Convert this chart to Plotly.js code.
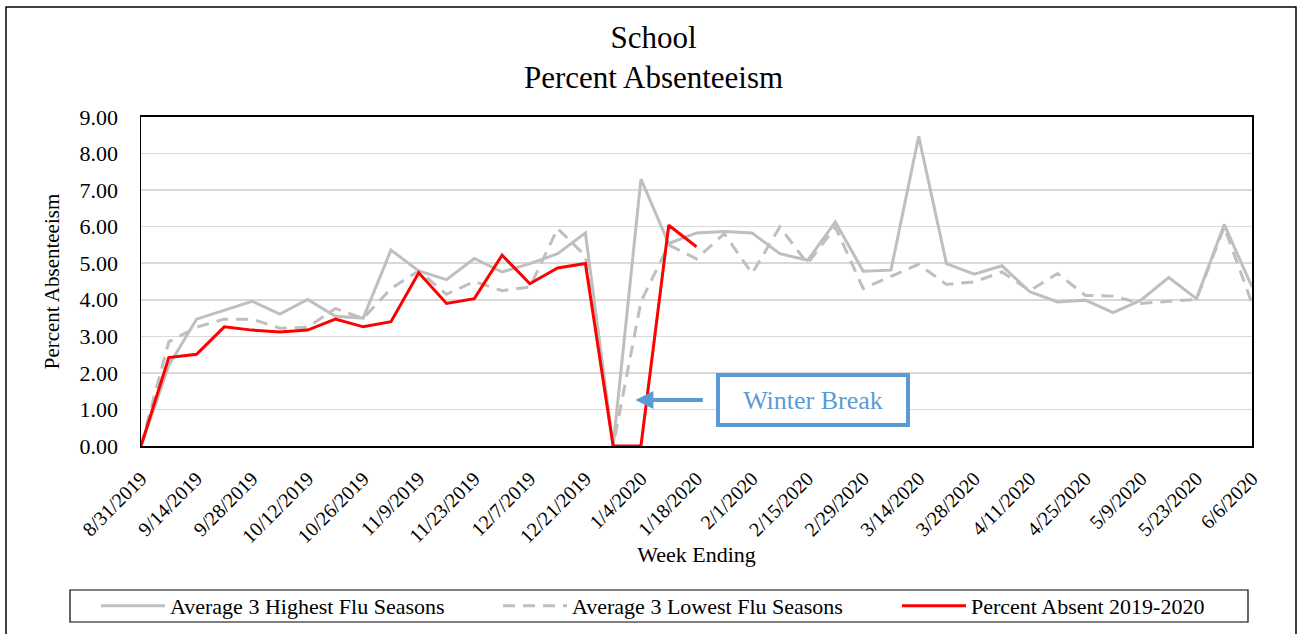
<!DOCTYPE html>
<html>
<head>
<meta charset="utf-8">
<script src="https://cdn.plot.ly/plotly-3.0.1.min.js"></script>
<style>html,body{margin:0;padding:0;background:#fff;}#chart{width:1302px;height:634px;}</style>
</head>
<body>
<div id="chart"></div>
<script>
const weeks = ["8/31/2019","9/7/2019","9/14/2019","9/21/2019","9/28/2019","10/5/2019","10/12/2019","10/19/2019","10/26/2019","11/2/2019","11/9/2019","11/16/2019","11/23/2019","11/30/2019","12/7/2019","12/14/2019","12/21/2019","12/28/2019","1/4/2020","1/11/2020","1/18/2020","1/25/2020","2/1/2020","2/8/2020","2/15/2020","2/22/2020","2/29/2020","3/7/2020","3/14/2020","3/21/2020","3/28/2020","4/4/2020","4/11/2020","4/18/2020","4/25/2020","5/2/2020","5/9/2020","5/16/2020","5/23/2020","5/30/2020","6/6/2020"];
const tickLabels = ["8/31/2019","9/14/2019","9/28/2019","10/12/2019","10/26/2019","11/9/2019","11/23/2019","12/7/2019","12/21/2019","1/4/2020","1/18/2020","2/1/2020","2/15/2020","2/29/2020","3/14/2020","3/28/2020","4/11/2020","4/25/2020","5/9/2020","5/23/2020","6/6/2020"];
const highFlu = [0,2.2,3.47,3.72,3.96,3.61,4.01,3.55,3.50,5.36,4.79,4.55,5.13,4.76,4.99,5.26,5.83,0,7.30,5.54,5.83,5.87,5.83,5.26,5.08,6.13,4.78,4.81,8.47,4.99,4.70,4.93,4.22,3.94,3.99,3.65,3.99,4.61,4.03,6.06,4.35];
const lowFlu = [0,2.85,3.25,3.47,3.47,3.22,3.25,3.76,3.49,4.31,4.79,4.15,4.50,4.25,4.35,5.95,5.20,0,3.95,5.50,5.12,5.81,4.72,5.99,4.99,5.99,4.31,4.63,4.97,4.42,4.49,4.76,4.25,4.72,4.12,4.10,3.90,3.96,4.01,5.99,3.90];
const absent1920 = [0,2.42,2.51,3.26,3.17,3.12,3.17,3.47,3.26,3.40,4.74,3.90,4.03,5.22,4.44,4.87,4.99,0,0,6.04,5.45];
const seriesNames = ["Average 3 Highest Flu Seasons","Average 3 Lowest Flu Seasons","Percent Absent 2019-2020"];

const FONT = "Liberation Serif, Times New Roman, serif";

const traces = [
  {x: weeks, y: highFlu, name: seriesNames[0], type: "scatter", mode: "lines", legend: "legend",
   line: {color: "#bfbfbf", width: 3}},
  {x: weeks, y: lowFlu, name: seriesNames[1], type: "scatter", mode: "lines", legend: "legend2",
   line: {color: "#bfbfbf", width: 3, dash: "12px,8px"}},
  {x: weeks.slice(0, absent1920.length), y: absent1920, name: seriesNames[2], type: "scatter", mode: "lines", legend: "legend3",
   line: {color: "#ff0000", width: 3}}
];

function legendAt(px) {
  return {
    orientation: "h", x: px / 1302, xref: "container", xanchor: "left",
    y: 1 - 606 / 634, yref: "container", yanchor: "middle",
    borderwidth: 0, bgcolor: "rgba(0,0,0,0)",
    font: {family: FONT, size: 22, color: "#000"},
    itemwidth: 64
  };
}

const layout = {
  width: 1302, height: 634,
  margin: {l: 141, r: 50, t: 117, b: 188},
  paper_bgcolor: "#ffffff", plot_bgcolor: "#ffffff",
  font: {family: FONT, color: "#000000"},
  showlegend: true,
  title: {text: "School<br>Percent Absenteeism", font: {family: FONT, size: 31, color: "#000"},
          x: 0.502, xref: "container", xanchor: "center", y: 0.925, yref: "container", yanchor: "top"},
  xaxis: {
    type: "category", range: [0, weeks.length - 1], automargin: false,
    tickmode: "array", tickvals: tickLabels, ticktext: tickLabels,
    tickangle: -45, tickfont: {family: FONT, size: 20, color: "#000"}, ticklabelstandoff: 11,
    showgrid: false, showline: true, linecolor: "#000", linewidth: 2, mirror: true,
    ticks: "", zeroline: false,
    title: {text: "Week Ending", font: {family: FONT, size: 22, color: "#000"}, standoff: 0}
  },
  yaxis: {
    range: [0, 9], dtick: 1, tick0: 0, tickformat: ".2f", automargin: false,
    tickfont: {family: FONT, size: 22, color: "#000"},
    showgrid: true, gridcolor: "#d9d9d9", gridwidth: 1.5,
    showline: true, linecolor: "#000", linewidth: 1.5, mirror: true,
    ticks: "", zeroline: false, ticklabelstandoff: 17,
    title: {text: "Percent Absenteeism", font: {family: FONT, size: 21, color: "#000"}, standoff: 14}
  },
  legend: legendAt(96),
  legend2: legendAt(498),
  legend3: legendAt(897),
  shapes: [
    {type: "rect", xref: "paper", yref: "paper", x0: -0.1215, x1: 1.0396, y0: -0.75, y1: 1.3343,
     line: {color: "#000", width: 1.5}, fillcolor: "rgba(0,0,0,0)", layer: "below"},
    {type: "rect", xref: "paper", yref: "paper", x0: -0.0639, x1: 0.9964, y0: -0.535, y1: -0.4377,
     line: {color: "#000", width: 1.2}, fillcolor: "rgba(0,0,0,0)", layer: "below"}
  ],
  annotations: [
    {x: 24.19, y: 1.26, xref: "x", yref: "y", text: "Winter Break", showarrow: false,
     font: {family: FONT, size: 26, color: "#5B9BD5"},
     bordercolor: "#5B9BD5", borderwidth: 4, borderpad: 0, width: 186, height: 46, bgcolor: "#fff"},
    {x: 17.8, y: 1.26, xref: "x", yref: "y", text: "", showarrow: true,
     ax: 69, ay: 0, axref: "pixel", ayref: "pixel",
     arrowhead: 2, arrowsize: 0.9, arrowwidth: 4, arrowcolor: "#5B9BD5", standoff: 0}
  ]
};

Plotly.newPlot("chart", traces, layout, {staticPlot: true, displayModeBar: false});
</script>
</body>
</html>
